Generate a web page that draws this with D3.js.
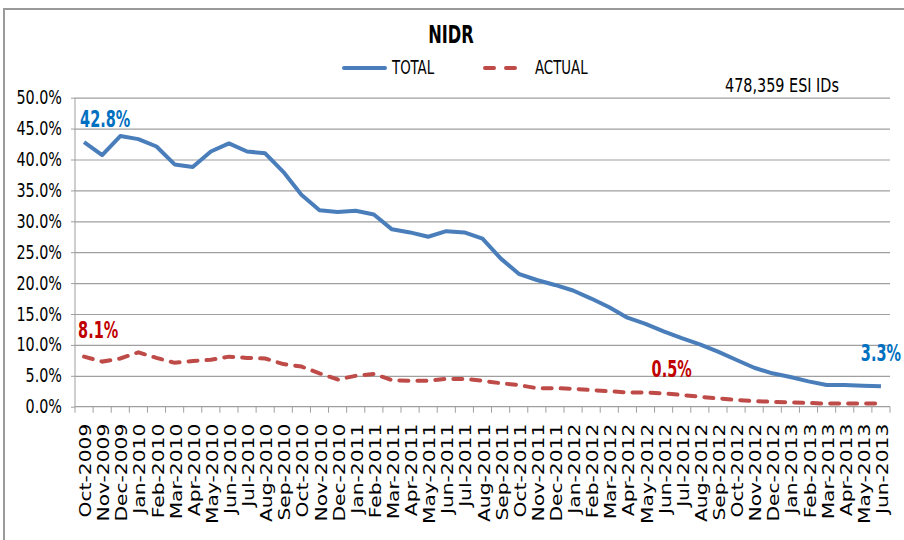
<!DOCTYPE html>
<html>
<head>
<meta charset="utf-8">
<script src="https://cdn.jsdelivr.net/npm/d3@7"></script>
<style>
  body { margin: 0; background: #fff; }
  svg { display: block; }
  .narrow { font-family: "Liberation Sans Narrow", "DejaVu Sans Condensed", "Arial Narrow", sans-serif; }
</style>
</head>
<body>
<svg id="chart" width="904" height="540"></svg>
<script>
var months = ['Oct-2009', 'Nov-2009', 'Dec-2009', 'Jan-2010', 'Feb-2010', 'Mar-2010', 'Apr-2010',
  'May-2010', 'Jun-2010', 'Jul-2010', 'Aug-2010', 'Sep-2010', 'Oct-2010', 'Nov-2010', 'Dec-2010',
  'Jan-2011', 'Feb-2011', 'Mar-2011', 'Apr-2011', 'May-2011', 'Jun-2011', 'Jul-2011', 'Aug-2011',
  'Sep-2011', 'Oct-2011', 'Nov-2011', 'Dec-2011', 'Jan-2012', 'Feb-2012', 'Mar-2012', 'Apr-2012',
  'May-2012', 'Jun-2012', 'Jul-2012', 'Aug-2012', 'Sep-2012', 'Oct-2012', 'Nov-2012', 'Dec-2012',
  'Jan-2013', 'Feb-2013', 'Mar-2013', 'Apr-2013', 'May-2013', 'Jun-2013'];

// percent values
var total = [42.8, 40.7, 43.8, 43.3, 42.1, 39.2, 38.8, 41.3, 42.6, 41.3, 41.0, 38.0,
  34.3, 31.8, 31.5, 31.7, 31.1, 28.7, 28.2, 27.5, 28.4, 28.2, 27.2,
  24.0, 21.5, 20.5, 19.7, 18.8, 17.5, 16.1, 14.4, 13.4, 12.2, 11.1,
  10.1, 8.9, 7.6, 6.3, 5.4, 4.8, 4.1, 3.5, 3.5, 3.4, 3.3];

var actual = [8.1, 7.3, 7.8, 8.8, 7.9, 7.1, 7.4, 7.6, 8.1, 7.9, 7.8, 6.9,
  6.5, 5.4, 4.4, 5.0, 5.3, 4.3, 4.2, 4.2, 4.5, 4.5, 4.2,
  3.8, 3.5, 3.0, 3.0, 2.9, 2.7, 2.5, 2.3, 2.3, 2.15, 1.9,
  1.6, 1.35, 1.1, 0.9, 0.8, 0.7, 0.6, 0.5, 0.5, 0.5, 0.5];

var yTicks = [0, 5, 10, 15, 20, 25, 30, 35, 40, 45, 50];

var pointLabels = [
  { series: 'total', month: 'Oct-2009', text: '42.8%', dx: -4, dy: -15, anchor: 'start' },
  { series: 'actual', month: 'Oct-2009', text: '8.1%', dx: -6, dy: -19, anchor: 'start' },
  { series: 'actual', month: 'Jun-2012', text: '0.5%', dx: -12, dy: -16, anchor: 'start' },
  { series: 'total', month: 'Jun-2013', text: '3.3%', dx: 0, dy: -25, anchor: 'middle' }
];

var colors = { total: '#4A7EBB', actual: '#BE4B48' };
var labelColors = { total: '#0070C0', actual: '#C00000' };

(function() {
  var svg = d3.select('#chart');
  var plotLeft = 75, plotRight = 890, plotTop = 97.7, plotBottom = 406.7;
  var squeeze = 0.78;

  // outer frame
  svg.append('rect').attr('x', 4).attr('y', 9).attr('width', 920).attr('height', 560)
    .attr('fill', 'none').attr('stroke', '#9a9a9a').attr('stroke-width', 2);

  var x = d3.scaleBand().domain(months).range([plotLeft, plotRight]);
  var y = d3.scaleLinear().domain([0, 50]).range([plotBottom, plotTop]);
  var cx = function(m) { return x(m) + x.bandwidth() / 2; };

  // grid lines
  svg.append('g').attr('transform', 'translate(' + plotLeft + ',0)')
    .call(d3.axisLeft(y).tickValues(yTicks.slice(1)).tickSize(-(plotRight - plotLeft)).tickFormat(''))
    .call(function(g) {
      g.select('.domain').remove();
      g.selectAll('line').attr('stroke', '#9f9f9f').attr('stroke-width', 1.2);
    });

  // y axis
  svg.append('g').attr('transform', 'translate(' + plotLeft + ',0)')
    .call(d3.axisLeft(y).tickValues(yTicks).tickSize(4).tickPadding(9).tickFormat(function(d) {
      return d.toFixed(1) + '%';
    }))
    .call(function(g) {
      g.select('.domain').attr('stroke', '#9f9f9f').attr('d', 'M0,' + plotTop + 'V' + plotBottom);
      g.selectAll('line').attr('stroke', '#9f9f9f');
      g.selectAll('text').attr('class', 'narrow').attr('font-size', 19).attr('fill', '#000')
        .attr('x', -13 / 0.84).attr('transform', 'scale(0.84,1)');
    });

  // x axis: boundary ticks + rotated labels
  var xg = svg.append('g').attr('transform', 'translate(0,' + plotBottom + ')');
  xg.append('line').attr('x1', plotLeft).attr('x2', plotRight).attr('stroke', '#9f9f9f').attr('stroke-width', 1.2);
  xg.selectAll('line.tick').data(months.concat(['end'])).enter().append('line')
    .attr('class', 'tick')
    .attr('x1', function(d) { return d == 'end' ? plotRight : x(d); })
    .attr('x2', function(d) { return d == 'end' ? plotRight : x(d); })
    .attr('y1', 0).attr('y2', 6).attr('stroke', '#9f9f9f');
  xg.selectAll('text').data(months).enter().append('text')
    .attr('transform', function(d) {
      return 'translate(' + (cx(d) + 7) + ',17) rotate(-90) scale(1.35,1)';
    })
    .attr('text-anchor', 'end')
    .attr('font-family', 'DejaVu Sans, sans-serif')
    .attr('font-size', 15)
    .attr('fill', '#000')
    .text(function(d) { return d; });

  // lines
  var series = { total: total, actual: actual };
  var line = d3.line()
    .x(function(d, i) { return cx(months[i]); })
    .y(function(d) { return y(d); });

  svg.append('path').datum(total).attr('d', line)
    .attr('fill', 'none').attr('stroke', colors.total).attr('stroke-width', 4)
    .attr('stroke-linejoin', 'round');
  svg.append('path').datum(actual).attr('d', line)
    .attr('fill', 'none').attr('stroke', colors.actual).attr('stroke-width', 4)
    .attr('stroke-dasharray', '9,9').attr('stroke-linecap', 'round');

  // point labels
  svg.selectAll('text.plabel').data(pointLabels).enter().append('text')
    .attr('class', 'plabel narrow')
    .attr('transform', function(d) {
      var px = cx(d.month) + d.dx;
      var py = y(series[d.series][months.indexOf(d.month)]) + d.dy;
      return 'translate(' + px + ',' + py + ') scale(0.7,1)';
    })
    .attr('text-anchor', function(d) { return d.anchor; })
    .attr('font-size', 23).attr('font-weight', 'bold')
    .attr('fill', function(d) { return labelColors[d.series]; })
    .text(function(d) { return d.text; });

  // title
  svg.append('text').attr('class', 'narrow').attr('transform', 'translate(451,43) scale(0.75,1)')
    .attr('text-anchor', 'middle').attr('font-size', 24).attr('font-weight', 'bold')
    .text('NIDR');

  // legend
  var legend = [
    { key: 'total', name: 'TOTAL', x: 344 },
    { key: 'actual', name: 'ACTUAL', x: 485 }
  ];
  var lg = svg.selectAll('g.legend').data(legend).enter().append('g')
    .attr('class', 'legend')
    .attr('transform', function(d) { return 'translate(' + d.x + ',68)'; });
  lg.append('line').attr('x1', 0).attr('x2', function(d) { return d.key == 'total' ? 41 : 30; })
    .attr('y1', 0).attr('y2', 0)
    .attr('stroke', function(d) { return colors[d.key]; }).attr('stroke-width', 4)
    .attr('stroke-linecap', 'round')
    .attr('stroke-dasharray', function(d) { return d.key == 'actual' ? '9,12' : null; });
  lg.append('text').attr('class', 'narrow')
    .attr('transform', function(d) { return 'translate(' + (d.key == 'total' ? 48 : 50) + ',6) scale(' + squeeze + ',1)'; })
    .attr('font-size', 19).text(function(d) { return d.name; });

  // id count note
  svg.append('text').attr('class', 'narrow').attr('transform', 'translate(725,92) scale(0.8,1)')
    .attr('font-size', 20).text('478,359 ESI IDs');
})();
</script>
</body>
</html>
